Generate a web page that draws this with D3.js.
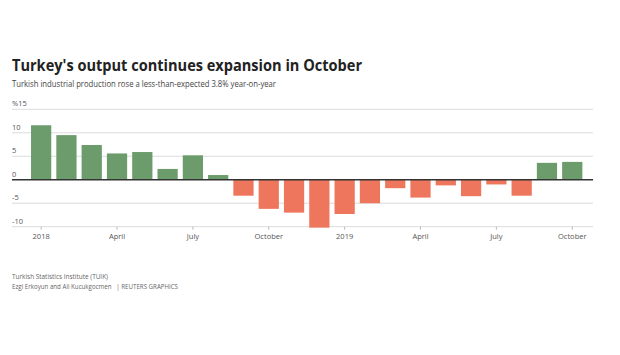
<!DOCTYPE html>
<html><head><meta charset="utf-8">
<script src="https://cdn.jsdelivr.net/npm/d3@7"></script>
<style>
html,body{margin:0;padding:0;background:#fff;}
svg{display:block;font-family:"Open Sans",sans-serif;}
</style></head>
<body><svg id="c" width="620" height="355"></svg>
<script>
const months = ["2018-01","2018-02","2018-03","2018-04","2018-05","2018-06","2018-07","2018-08","2018-09","2018-10","2018-11","2018-12",
"2019-01","2019-02","2019-03","2019-04","2019-05","2019-06","2019-07","2019-08","2019-09","2019-10"];
const values = [11.6,9.5,7.4,5.6,5.9,2.3,5.2,1.0,-3.4,-6.2,-7.0,-10.2,-7.3,-5.0,-1.8,-3.8,-1.2,-3.5,-1.0,-3.4,3.6,3.8];
const yTicks = [-10,-5,0,5,10,15];
const yTickLabels = ["-10","-5","0","5","10","%15"];
const xTickMonths = ["2018-01","2018-04","2018-07","2018-10","2019-01","2019-04","2019-07","2019-10"];
const xTickLabels = ["2018","April","July","October","2019","April","July","October"];

const svg = d3.select("#c");
const x = d3.scaleBand().domain(months).range([28.5, 584.9]).paddingInner(0.2).paddingOuter(0.1);
const y = d3.scaleLinear().domain([-10,15]).range([226.7,109.3]);

svg.append("text").attr("x",12).attr("y",71).attr("font-size",15.5).attr("font-weight",700)
  .attr("fill","#222").attr("textLength",350).attr("lengthAdjust","spacingAndGlyphs")
  .text("Turkey's output continues expansion in October");
svg.append("text").attr("x",12).attr("y",87).attr("font-size",8.2).attr("fill","#444")
  .attr("textLength",264).attr("lengthAdjust","spacingAndGlyphs")
  .text("Turkish industrial production rose a less-than-expected 3.8% year-on-year");

yTicks.forEach((t,i)=>{
  if(t!==0) svg.append("line").attr("x1",12).attr("x2",593).attr("y1",y(t)).attr("y2",y(t))
     .attr("stroke","#dcdcdc").attr("stroke-width",1);
  svg.append("text").attr("x",12).attr("y",y(t)-3).attr("font-size",7.5).attr("fill","#555").text(yTickLabels[i]);
});

svg.append("g").selectAll("rect").data(values).join("rect")
  .attr("x",(d,i)=>x(months[i])).attr("width",x.bandwidth())
  .attr("y",d=>y(Math.max(0,d))).attr("height",d=>Math.abs(y(d)-y(0)))
  .attr("fill",d=>d>=0?"#6c9b6c":"#ee765c");

svg.append("line").attr("x1",12).attr("x2",593).attr("y1",y(0)).attr("y2",y(0))
  .attr("stroke","#333").attr("stroke-width",1.6);

const xAxis = d3.axisBottom(x).tickValues(xTickMonths).tickSize(3).tickFormat((d,i)=>xTickLabels[i]);
const gx = svg.append("g").attr("transform",`translate(0,${y(-10)})`).call(xAxis);
gx.select(".domain").remove();
gx.selectAll(".tick line").attr("stroke","#bbb");
gx.selectAll(".tick text").attr("font-size",7.5).attr("fill","#555").attr("font-family","Open Sans").attr("dy","0.9em");

svg.append("text").attr("x",12).attr("y",279).attr("font-size",6.5).attr("fill","#666")
  .attr("textLength",96).attr("lengthAdjust","spacingAndGlyphs").text("Turkish Statistics Institute (TUIK)");
svg.append("text").attr("x",12).attr("y",289).attr("font-size",6.5).attr("fill","#666").attr("xml:space","preserve")
  .attr("textLength",166).attr("lengthAdjust","spacingAndGlyphs")
  .text("Ezgi Erkoyun and Ali Kucukgocmen   | REUTERS GRAPHICS");
</script></body></html>
